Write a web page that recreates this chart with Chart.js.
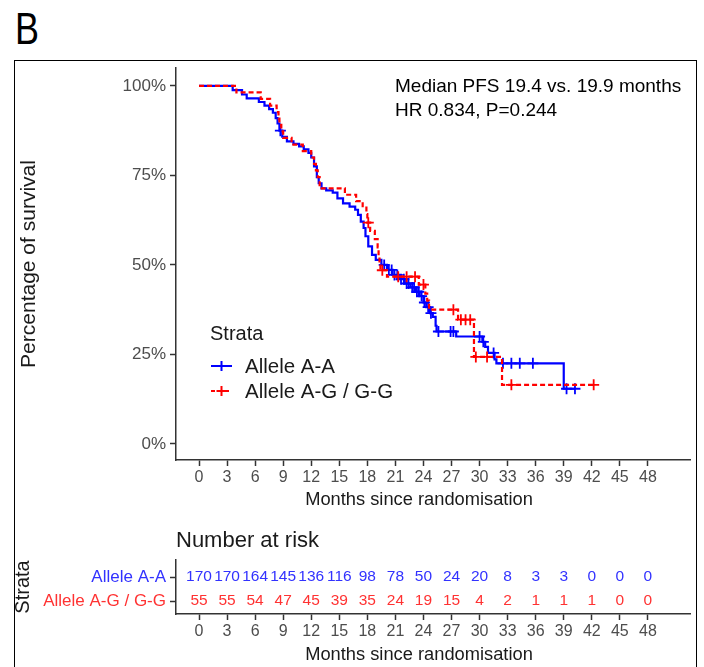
<!DOCTYPE html>
<html>
<head>
<meta charset="utf-8">
<script src="https://cdn.jsdelivr.net/npm/chart.js@4.4.0/dist/chart.umd.min.js"></script>
<style>
  html, body { margin: 0; padding: 0; background: #fff; }
  body { width: 704px; height: 667px; position: relative; overflow: hidden; font-family: "Liberation Sans", Arial, sans-serif; }
  .letra { position: absolute; left: 15px; top: 7px; font-size: 45px; line-height: 44px; color: #000; transform: scaleX(0.8); transform-origin: left top; }
  .marco { position: absolute; left: 14px; top: 60px; width: 683px; height: 700px; border: 1.5px solid #000; box-sizing: border-box; }
  #grafica { position: absolute; left: 0; top: 0; }
  #riesgo { position: absolute; left: 0; top: 520px; }
</style>
</head>
<body>
<div class="letra">B</div>
<div class="marco"></div>
<canvas id="grafica" width="704" height="520"></canvas>
<canvas id="riesgo" width="704" height="147"></canvas>
<script>
// ticks
const mesesTicks = [0, 3, 6, 9, 12, 15, 18, 21, 24, 27, 30, 33, 36, 39, 42, 45, 48];
const supervTicks = [0, 0.25, 0.5, 0.75, 1];

// Allele A-A (curva escalonada: tiempo del evento y supervivencia despues)
const tiempoAA = [0, 3.6, 4.6, 5.1, 6.4, 7.0, 7.5, 7.9, 8.2, 8.4, 8.6, 8.9, 9.4, 10.1, 10.7, 11.2, 11.7, 12.0, 12.3, 12.6,
  12.8, 13.1, 13.6, 14.3, 14.8, 15.4, 16.1, 16.7, 17.0, 17.3, 17.6, 17.8, 18.1, 18.5, 18.9, 19.5, 20.1, 20.7, 21.4, 22.0,
  22.6, 23.1, 23.6, 24.0, 24.3, 24.7, 25.0, 25.3, 25.4, 27.5, 30.3, 30.6, 30.9, 31.6, 31.8, 39.0, 40.2];
const supervAA = [1, 0.988, 0.976, 0.965, 0.955, 0.945, 0.935, 0.925, 0.91, 0.895, 0.875, 0.858, 0.845, 0.838, 0.831, 0.823, 0.813, 0.80, 0.775, 0.745,
  0.728, 0.714, 0.708, 0.702, 0.686, 0.672, 0.663, 0.654, 0.64, 0.621, 0.603, 0.58, 0.552, 0.528, 0.514, 0.50, 0.486, 0.472, 0.46, 0.448,
  0.437, 0.425, 0.413, 0.395, 0.382, 0.365, 0.355, 0.33, 0.314, 0.30, 0.285, 0.271, 0.254, 0.236, 0.225, 0.154, 0.154];
const censuraAA = [8.7, 19.8, 20.3, 20.6, 20.9, 21.2, 21.6, 21.9, 22.2, 22.4, 22.8, 23.0, 23.3, 23.5, 23.8, 24.1, 24.5, 24.8,
  25.6, 26.9, 27.2, 30.0, 30.4, 31.5, 32.5, 33.4, 34.3, 35.7, 39.3, 40.2];

// Allele A-G / G-G
const tiempoAG = [0, 4.0, 6.6, 7.6, 8.3, 8.5, 8.6, 8.8, 9.0, 9.9, 11.1, 12.0, 12.3, 12.5, 12.7, 12.9, 15.6, 16.8, 17.5, 17.9,
  18.0, 18.3, 18.8, 19.1, 19.2, 19.3, 19.4, 20.1, 23.5, 24.2, 24.4, 24.6, 27.7, 29.4, 32.4, 42.2];
const supervAG = [1, 0.982, 0.964, 0.945, 0.927, 0.909, 0.891, 0.873, 0.855, 0.836, 0.818, 0.80, 0.782, 0.764, 0.745, 0.714, 0.696, 0.678, 0.66, 0.642,
  0.618, 0.595, 0.572, 0.549, 0.526, 0.505, 0.485, 0.467, 0.445, 0.42, 0.40, 0.375, 0.347, 0.243, 0.165, 0.165];
const censuraAG = [18.1, 19.6, 21.3, 22.2, 23.1, 24.0, 27.2, 28.0, 28.5, 29.0, 29.6, 30.8, 33.4, 42.2];

// numero en riesgo
const riesgoAA = [170, 170, 164, 145, 136, 116, 98, 78, 50, 24, 20, 8, 3, 3, 0, 0, 0];
const riesgoAG = [55, 55, 54, 47, 45, 39, 35, 24, 19, 15, 4, 2, 1, 1, 1, 0, 0];

const azul = '#0000ff';
const rojo = '#ff0000';
const azulTexto = '#3232ff';
const rojoTexto = '#ff3232';
const gris = '#333333';
const fuente = '"Liberation Sans", Arial, sans-serif';
const tituloX = 'Months since randomisation';

function supervEn(tiempos, superv, t) {
  let v = superv[0];
  for (let i = 0; i < tiempos.length; i++) {
    if (tiempos[i] <= t) v = superv[i];
  }
  return v;
}

function puntos(tiempos, superv) {
  return tiempos.map((t, i) => ({ x: t, y: superv[i] }));
}

function cruces(censura, tiempos, superv) {
  return censura.map(t => ({ x: t, y: supervEn(tiempos, superv, t) }));
}

const xMin = -2.46, xMax = 52.5;

// titulo del eje x (centrado como en ggplot, algo a la izquierda del eje)
function dibujarTituloX(ctx, y) {
  ctx.save();
  ctx.textAlign = 'center';
  ctx.textBaseline = 'middle';
  ctx.fillStyle = '#1a1a1a';
  ctx.font = '18.3px ' + fuente;
  ctx.fillText(tituloX, 419, y);
  ctx.restore();
}

// textos y leyenda dentro del grafico
const textosPlugin = {
  id: 'textos',
  afterDraw(chart) {
    const ctx = chart.ctx;
    dibujarTituloX(ctx, 500);
    ctx.save();
    ctx.textBaseline = 'middle';
    ctx.textAlign = 'left';
    ctx.fillStyle = '#000';
    ctx.font = '19px ' + fuente;
    ctx.fillText('Median PFS 19.4 vs. 19.9 months', 395, 87);
    ctx.fillText('HR 0.834, P=0.244', 395, 111);

    ctx.fillStyle = '#1a1a1a';
    ctx.font = '20px ' + fuente;
    ctx.fillText('Strata', 210, 334);
    ctx.font = '20.5px ' + fuente;
    ctx.fillText('Allele A-A', 245, 367);
    ctx.fillText('Allele A-G / G-G', 245, 392);

    // simbolos de la leyenda
    ctx.lineWidth = 2;
    ctx.strokeStyle = azul;
    ctx.beginPath();
    ctx.moveTo(211, 366); ctx.lineTo(232, 366);
    ctx.moveTo(221.5, 361); ctx.lineTo(221.5, 371);
    ctx.stroke();
    ctx.strokeStyle = rojo;
    ctx.setLineDash([4, 3]);
    ctx.beginPath();
    ctx.moveTo(211, 391); ctx.lineTo(232, 391);
    ctx.stroke();
    ctx.setLineDash([]);
    ctx.beginPath();
    ctx.moveTo(216.5, 391); ctx.lineTo(226.5, 391);
    ctx.moveTo(221.5, 386); ctx.lineTo(221.5, 396);
    ctx.stroke();
    ctx.restore();
  }
};

new Chart(document.getElementById('grafica').getContext('2d'), {
  type: 'scatter',
  data: {
    datasets: [
      {
        data: puntos(tiempoAG, supervAG),
        showLine: true, stepped: true, pointRadius: 0,
        borderColor: rojo, borderWidth: 2.2, borderDash: [5, 3], order: 1
      },
      {
        data: cruces(censuraAG, tiempoAG, supervAG),
        pointStyle: 'cross', pointRadius: 5.5, borderColor: rojo, borderWidth: 1.8, order: 1
      },
      {
        data: puntos(tiempoAA, supervAA),
        showLine: true, stepped: true, pointRadius: 0,
        borderColor: azul, borderWidth: 2.2, order: 2
      },
      {
        data: cruces(censuraAA, tiempoAA, supervAA),
        pointStyle: 'cross', pointRadius: 5.5, borderColor: azul, borderWidth: 1.8, order: 2
      }
    ]
  },
  options: {
    responsive: false,
    animation: false,
    layout: { padding: { left: 0, top: 68, right: 14, bottom: 0 } },
    plugins: { legend: { display: false }, tooltip: { enabled: false } },
    scales: {
      x: {
        type: 'linear', min: xMin, max: xMax,
        afterBuildTicks: s => { s.ticks = mesesTicks.map(v => ({ value: v })); },
        afterFit: s => { s.height = 60; },
        grid: { drawOnChartArea: false, tickLength: 6, tickColor: gris, tickWidth: 1.5 },
        border: { color: gris, width: 1.5 },
        ticks: { color: '#4d4d4d', font: { size: 16, family: fuente }, padding: 2, maxRotation: 0, autoSkip: false }
      },
      y: {
        type: 'linear', min: -0.045, max: 1.05,
        afterBuildTicks: s => { s.ticks = supervTicks.map(v => ({ value: v })); },
        afterFit: s => { s.width = 176; },
        grid: { drawOnChartArea: false, tickLength: 6, tickColor: gris, tickWidth: 1.5 },
        border: { color: gris, width: 1.5 },
        ticks: { color: '#4d4d4d', font: { size: 17, family: fuente }, padding: 4, callback: v => Math.round(v * 100) + '%' },
        title: { display: true, text: 'Percentage of survival', color: '#1a1a1a', font: { size: 21, family: fuente }, padding: { top: 17, bottom: 0 } }
      }
    }
  },
  plugins: [textosPlugin]
});

// tabla de numero en riesgo
const riesgoPlugin = {
  id: 'numerosRiesgo',
  afterDraw(chart) {
    const ctx = chart.ctx;
    const xs = chart.scales.x, ys = chart.scales.y;
    dibujarTituloX(ctx, 135);
    ctx.save();
    ctx.textBaseline = 'middle';
    ctx.textAlign = 'left';
    ctx.fillStyle = '#1a1a1a';
    ctx.font = '22px ' + fuente;
    ctx.fillText('Number at risk', chart.chartArea.left, 21);
    ctx.textAlign = 'center';
    ctx.font = '15.5px ' + fuente;
    mesesTicks.forEach((m, i) => {
      ctx.fillStyle = azulTexto;
      ctx.fillText(String(riesgoAA[i]), xs.getPixelForValue(m), ys.getPixelForValue(1));
      ctx.fillStyle = rojoTexto;
      ctx.fillText(String(riesgoAG[i]), xs.getPixelForValue(m), ys.getPixelForValue(0));
    });
    ctx.restore();
  }
};

new Chart(document.getElementById('riesgo').getContext('2d'), {
  type: 'scatter',
  data: { datasets: [{ data: [] }] },
  options: {
    responsive: false,
    animation: false,
    layout: { padding: { left: 0, top: 40, right: 14, bottom: 0 } },
    plugins: { legend: { display: false }, tooltip: { enabled: false } },
    scales: {
      x: {
        type: 'linear', min: xMin, max: xMax,
        afterBuildTicks: s => { s.ticks = mesesTicks.map(v => ({ value: v })); },
        afterFit: s => { s.height = 53; },
        grid: { drawOnChartArea: false, tickLength: 6, tickColor: gris, tickWidth: 1.5 },
        border: { color: gris, width: 1.5 },
        ticks: { color: '#4d4d4d', font: { size: 16, family: fuente }, padding: 2, maxRotation: 0, autoSkip: false }
      },
      y: {
        type: 'linear', min: -0.54, max: 1.71,
        afterBuildTicks: s => { s.ticks = [0, 1].map(v => ({ value: v })); },
        afterFit: s => { s.width = 176; },
        grid: { drawOnChartArea: false, tickLength: 6, tickColor: gris, tickWidth: 1.5 },
        border: { color: gris, width: 1.5 },
        ticks: {
          font: { size: 17, family: fuente }, padding: 4,
          color: c => (c.tick && c.tick.value === 1) ? azulTexto : rojoTexto,
          callback: v => v === 1 ? 'Allele A-A' : 'Allele A-G / G-G'
        },
        title: { display: true, text: 'Strata', color: '#1a1a1a', font: { size: 20, family: fuente }, padding: { top: 11, bottom: 0 } }
      }
    }
  },
  plugins: [riesgoPlugin]
});
</script>
</body>
</html>
